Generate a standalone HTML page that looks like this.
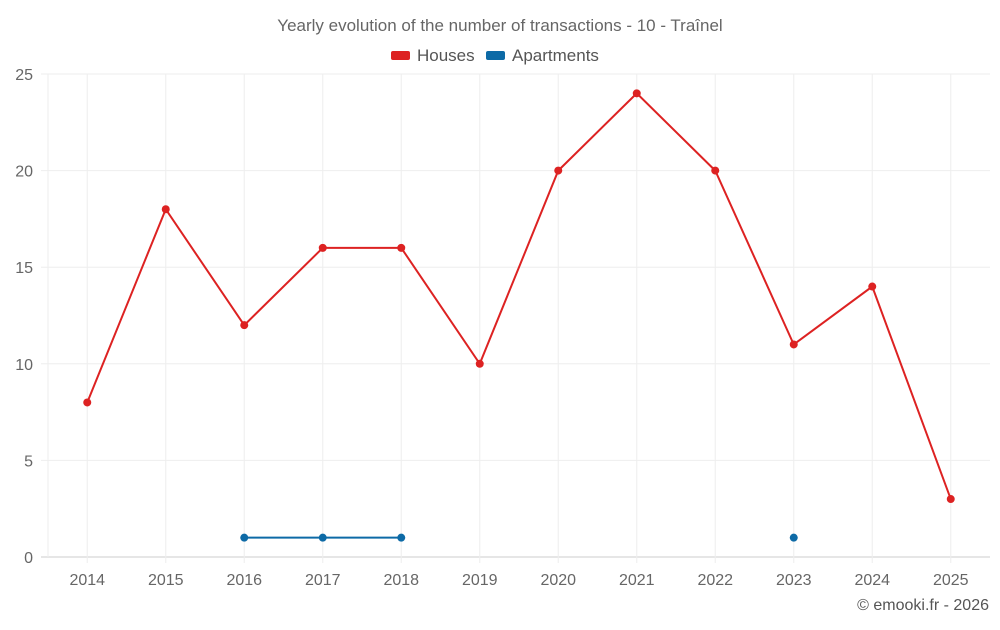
<!DOCTYPE html>
<html><head><meta charset="utf-8"><style>
body{margin:0;background:#fff;font-family:"Liberation Sans",sans-serif;}
</style></head><body>
<svg width="1000" height="625" xmlns="http://www.w3.org/2000/svg">
<text x="500" y="31" text-anchor="middle" font-size="17" fill="#666">Yearly evolution of the number of transactions - 10 - Traînel</text>
<g><rect x="391" y="51" width="19" height="9" rx="2" fill="#dd2222"/><text x="417" y="61" font-size="17" fill="#555">Houses</text></g>
<g><rect x="486" y="51" width="19" height="9" rx="2" fill="#0d6aa6"/><text x="512" y="61" font-size="17" fill="#555">Apartments</text></g>
<g id="grid"></g><g id="axes"></g><g id="series"></g>
<text x="989" y="610" text-anchor="end" font-size="16" fill="#555">© emooki.fr - 2026</text>
</svg>
<script>
const years=["2014","2015","2016","2017","2018","2019","2020","2021","2022","2023","2024","2025"];
const houses=[8,18,12,16,16,10,20,24,20,11,14,3];
const apartments=[null,null,1,1,1,null,null,null,null,1,null,null];
const yTicks=[0,5,10,15,20,25];
const NS="http://www.w3.org/2000/svg";
const L=48,R=990,T=74,B=557,yMax=25;
const bw=(R-L)/years.length;
const xs=i=>L+bw*(i+0.5);
const ys=v=>B-(v/yMax)*(B-T);
function mk(tag,attrs,parent){const e=document.createElementNS(NS,tag);for(const k in attrs)e.setAttribute(k,attrs[k]);parent.appendChild(e);return e;}
const grid=document.getElementById('grid'),axes=document.getElementById('axes'),ser=document.getElementById('series');
yTicks.forEach(t=>{
 const l=mk('line',{x1:41,x2:R,y1:ys(t),y2:ys(t),stroke:t===0?'#ccc':'#eee','stroke-width':1},grid);
 
 
 const tx=mk('text',{x:33,y:ys(t)+6,'text-anchor':'end','font-size':16,fill:'#666'},axes);
 tx.textContent=t;
 
 
});
const v0=mk('line',{x1:L,x2:L,y1:T,y2:B,stroke:'#eee'},grid);


years.forEach((y,i)=>{
 const l=mk('line',{x1:xs(i),x2:xs(i),y1:T,y2:B+6,stroke:'#eee'},grid);
 
 
 const tx=mk('text',{x:xs(i),y:B+28,'text-anchor':'middle','font-size':16,fill:'#666'},axes);
 tx.textContent=y;
 
 
});
function draw(data,color,name){
 let d='',pen=false;
 data.forEach((v,i)=>{if(v==null){pen=false;return;}d+=(pen?'L':'M')+xs(i)+' '+ys(v)+' ';pen=true;});
 const p=mk('path',{d:d,fill:'none',stroke:color,'stroke-width':2},ser);
 
 
 data.forEach((v,i)=>{if(v==null)return;
  const c=mk('circle',{cx:xs(i),cy:ys(v),r:4,fill:color},ser);
  
  
 });
}
draw(houses,'#dd2222','houses');
draw(apartments,'#0d6aa6','apartments');
</script>
</body></html>
